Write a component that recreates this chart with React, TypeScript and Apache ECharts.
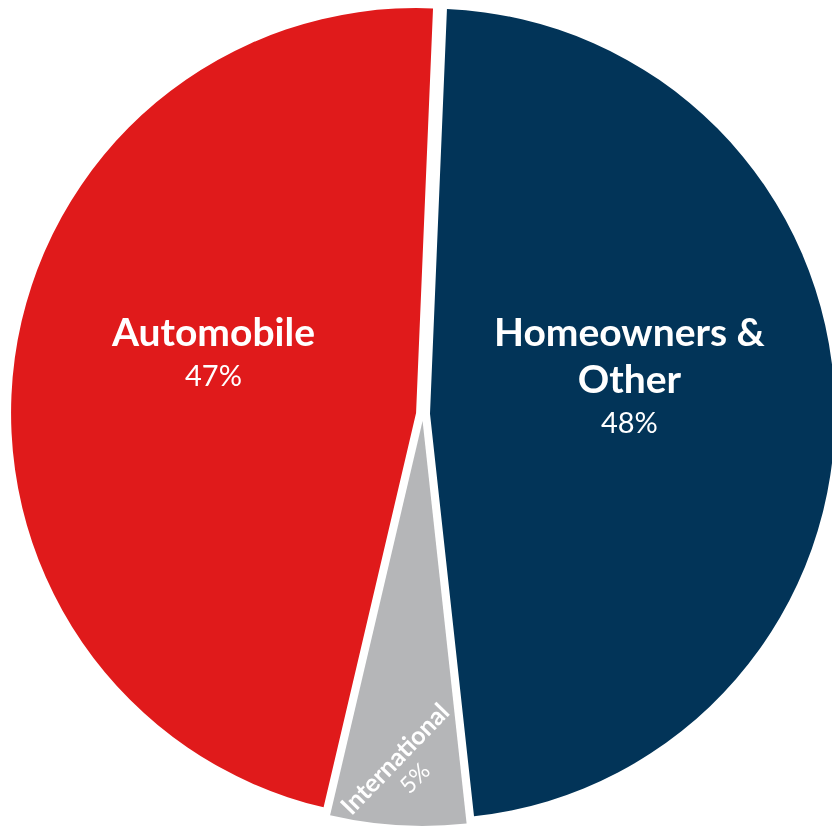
import React, { useEffect, useRef } from 'react';
import * as echarts from 'echarts';

const categories = ['Homeowners & Other', 'International', 'Automobile'];
const labelLines = [['Homeowners &', 'Other'], ['International'], ['Automobile']];
const shares = [47.6, 5.4, 47.0];
const colors = ['#023458', '#B5B6B8', '#E01A1B'];
// label shifts (in each label's own rotated frame)
const labelShift = [
  [-6, -32],
  [-106, 94],
  [1, -34],
];

export default function App() {
  const ref = useRef<HTMLDivElement>(null);
  useEffect(() => {
    const chart = echarts.init(ref.current!, null, { renderer: 'svg' });
    const font = 'Lato';
    chart.setOption({
      animation: false,
      series: [
        {
          type: 'pie',
          center: [423, 414],
          radius: [0, 405],
          startAngle: 87.6,
          clockwise: true,
          selectedMode: 'multiple',
          selectedOffset: 7,
          avoidLabelOverlap: false,
          emphasis: { disabled: true },
          labelLine: { show: false },
          label: {
            show: true,
            position: 'inside',
            color: '#fff',
            fontFamily: font,
            formatter: (p: any) => {
              const pct = Math.round(p.percent) + '%';
              const small = p.dataIndex === 1;
              const nm = small ? 'sname' : 'name';
              const pc = small ? 'spct' : 'pct';
              return labelLines[p.dataIndex].map((l) => `{${nm}|${l}}`).join('\n') + `\n{${pc}|${pct}}`;
            },
            rich: {
              name: { fontFamily: font, fontWeight: 'bold', fontSize: 39, lineHeight: 47, color: '#fff' },
              pct: { fontFamily: font, fontSize: 29, lineHeight: 41, color: '#fff' },
              sname: { fontFamily: font, fontWeight: 'bold', fontSize: 25, lineHeight: 28, color: '#fff' },
              spct: { fontFamily: font, fontSize: 23, lineHeight: 28, color: '#fff' },
            },
          },
          labelLayout: (p: any) => ({ dx: labelShift[p.dataIndex][0], dy: labelShift[p.dataIndex][1] }),
          data: categories.map((name, i) => ({
            name,
            value: shares[i],
            selected: true,
            itemStyle: { color: colors[i] },
            select: { itemStyle: { color: colors[i] } },
            label: i === 1 ? { rotate: 46 } : {},
          })),
        },
      ],
    });
    return () => chart.dispose();
  }, []);
  return <div ref={ref} style={{ position: 'fixed', left: 0, top: 0, width: 832, height: 830 }} />;
}
